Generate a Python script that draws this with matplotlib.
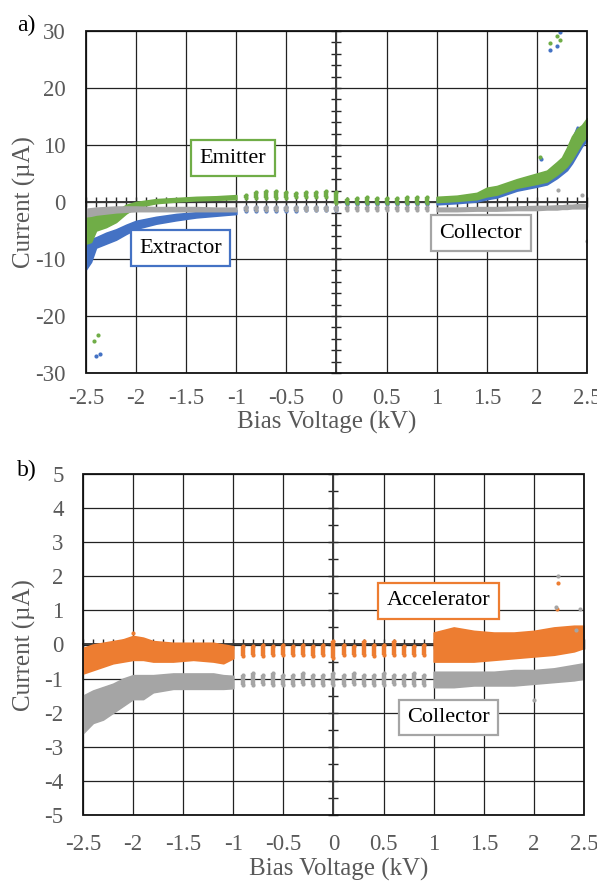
import matplotlib
matplotlib.use("Agg")
import matplotlib.pyplot as plt
import numpy as np
from matplotlib.patches import Rectangle

plt.rcParams['font.family'] = ['Liberation Serif', 'DejaVu Serif']
plt.rcParams['axes.unicode_minus'] = False

GREEN = '#70AD47'
BLUE = '#4472C4'
GRAY = '#A5A5A5'
ORANGE = '#ED7D31'
TICKCOL = '#595959'

# ---------------- data: panel a ----------------
x_tick_labels = ['-2.5', '-2', '-1.5', '-1', '-0.5', '0', '0.5', '1', '1.5', '2', '2.5']
x_ticks = [-2.5, -2.0, -1.5, -1.0, -0.5, 0.0, 0.5, 1.0, 1.5, 2.0, 2.5]
a_y_ticks = [-30, -20, -10, 0, 10, 20, 30]
a_y_labels = ['-30', '-20', '-10', '0', '10', '20', '30']
b_y_ticks = [-5, -4, -3, -2, -1, 0, 1, 2, 3, 4, 5]
b_y_labels = ['-5', '-4', '-3', '-2', '-1', '0', '1', '2', '3', '4', '5']

a_neg_x = [-2.5, -2.45, -2.4, -2.3, -2.2, -2.1, -2.0, -1.8, -1.6, -1.4, -1.2, -1.0]
a_emit_neg_lo = [-7.3, -7.0, -5.0, -4.4, -3.5, -2.0, -0.9, -0.2, 0.1, 0.3, 0.4, 0.5]
a_emit_neg_hi = [-2.3, -2.0, -2.1, -2.0, -1.6, -0.5, 0.0, 0.5, 0.7, 0.9, 1.0, 1.2]
a_extr_neg_lo = [-11.8, -10.5, -8.0, -7.3, -6.6, -5.6, -4.7, -3.8, -3.2, -2.7, -2.4, -2.1]
a_extr_neg_hi = [-7.6, -6.5, -6.2, -5.4, -4.8, -4.0, -3.3, -2.6, -2.1, -1.8, -1.6, -1.4]
a_coll_neg_lo = [-2.5, -2.4, -2.2, -2.0, -1.8, -1.7, -1.6, -1.6, -1.6, -1.6, -1.6, -1.6]
a_coll_neg_hi = [-1.2, -1.1, -1.0, -0.9, -0.8, -0.8, -0.8, -0.9, -0.9, -0.9, -1.0, -1.0]

step_x = [-0.9, -0.8, -0.7, -0.6, -0.5, -0.4, -0.3, -0.2, -0.1, 0.0,
          0.1, 0.2, 0.3, 0.4, 0.5, 0.6, 0.7, 0.8, 0.9]
a_emit_step_lo = [0.7, 0.7, 0.7, 0.7, 0.7, 0.8, 0.9, 0.9, 0.9, -0.1,
                  -0.2, -0.2, -0.1, -0.1, -0.1, -0.1, -0.1, -0.1, -0.1]
a_emit_step_hi = [1.2, 1.8, 1.9, 1.9, 1.8, 1.6, 1.8, 1.8, 1.9, 1.8,
                  0.6, 0.7, 0.8, 0.7, 0.7, 0.7, 0.8, 0.8, 0.9]
a_extr_step_lo = [-1.5, -1.5, -1.5, -1.5, -1.5, -1.5, -1.4, -1.4, -1.4, -1.4,
                  -0.4, -0.4, -0.4, -0.4, -0.4, -0.4, -0.4, -0.4, -0.4]
a_extr_step_hi = [-0.9, -0.9, -0.9, -0.9, -0.9, -0.9, -0.9, -0.9, -0.9, -0.9,
                  -0.1, -0.1, -0.1, -0.1, -0.1, -0.1, -0.1, -0.1, -0.1]
a_coll_step_lo = [-1.4, -1.4, -1.4, -1.4, -1.4, -1.4, -1.4, -1.4, -1.4, -1.4,
                  -1.4, -1.4, -1.4, -1.4, -1.4, -1.4, -1.4, -1.4, -1.4]
a_coll_step_hi = [-0.9, -0.9, -0.9, -0.9, -0.9, -0.9, -0.9, -0.9, -0.9, -0.9,
                  -0.8, -0.8, -0.8, -0.8, -0.8, -0.8, -0.8, -0.8, -0.8]

a_pos_x = [1.0, 1.2, 1.4, 1.5, 1.6, 1.8, 2.0, 2.1, 2.2, 2.25, 2.3, 2.35, 2.4, 2.45, 2.5]
a_emit_pos_lo = [0.0, 0.2, 0.5, 1.0, 1.3, 2.5, 3.2, 3.6, 4.8, 5.5, 6.3, 7.5, 9.0, 10.5, 11.5]
a_emit_pos_hi = [0.9, 1.1, 1.6, 2.5, 2.8, 4.0, 5.0, 5.5, 7.0, 7.8, 9.5, 11.5, 12.8, 13.5, 14.7]
a_extr_pos_lo = [-0.4, -0.2, 0.1, 0.5, 0.8, 2.0, 2.7, 3.1, 4.2, 4.9, 5.6, 6.8, 8.3, 9.8, 10.8]
a_extr_pos_hi = [0.5, 0.7, 1.2, 2.0, 2.3, 3.5, 4.5, 5.0, 6.5, 7.2, 9.0, 11.0, 13.2, 13.0, 14.3]
a_coll_pos_lo = [-1.6, -1.6, -1.5, -1.5, -1.5, -1.4, -1.4, -1.3, -1.3, -1.2, -1.2, -1.1, -1.1, -1.1, -1.1]
a_coll_pos_hi = [-1.0, -1.0, -0.9, -0.9, -0.9, -0.8, -0.7, -0.7, -0.6, -0.6, -0.5, -0.5, -0.4, -0.4, -0.4]

a_emit_out_x = [-2.42, -2.38, 2.03, 2.135, 2.2, 2.23, 2.24]
a_emit_out_y = [-24.3, -23.4, 7.9, 27.9, 29.1, 28.5, 30.6]
a_extr_out_x = [-2.405, -2.36, 2.04, 2.13, 2.2, 2.23]
a_extr_out_y = [-27.1, -26.7, 7.6, 26.7, 27.3, 29.9]
a_coll_out_x = [2.21, 2.45, 2.5]
a_coll_out_y = [2.1, 1.2, -6.8]

# ---------------- data: panel b ----------------
b_neg_x = [-2.5, -2.4, -2.3, -2.2, -2.1, -2.0, -1.9, -1.8, -1.6, -1.4, -1.2, -1.1, -1.0]
b_acc_neg_lo = [-0.85, -0.75, -0.65, -0.55, -0.5, -0.45, -0.45, -0.5, -0.5, -0.45, -0.5, -0.55, -0.4]
b_acc_neg_hi = [-0.1, 0.0, 0.05, 0.1, 0.15, 0.25, 0.2, 0.1, 0.05, 0.05, 0.05, 0.0, -0.05]
b_coll_neg_lo = [-2.6, -2.3, -2.2, -2.0, -1.8, -1.6, -1.6, -1.4, -1.3, -1.3, -1.3, -1.3, -1.28]
b_coll_neg_hi = [-1.5, -1.35, -1.25, -1.15, -1.0, -0.9, -0.9, -0.9, -0.85, -0.85, -0.85, -0.9, -0.92]

b_acc_step_lo = [-0.35, -0.3, -0.35, -0.3, -0.3, -0.3, -0.3, -0.35, -0.3, -0.4,
                 -0.3, -0.3, -0.3, -0.35, -0.3, -0.3, -0.3, -0.3, -0.3]
b_acc_step_hi = [-0.05, -0.05, 0.0, -0.05, 0.0, -0.05, 0.0, -0.05, 0.0, 0.1,
                 0.0, -0.05, 0.1, 0.0, 0.0, 0.1, -0.05, -0.05, 0.0]
b_coll_step_lo = [-1.2, -1.2, -1.15, -1.2, -1.2, -1.2, -1.15, -1.2, -1.2, -1.2,
                  -1.2, -1.15, -1.2, -1.2, -1.2, -1.15, -1.2, -1.2, -1.2]
b_coll_step_hi = [-0.9, -0.85, -0.9, -0.85, -0.9, -0.9, -0.85, -0.9, -0.9, -0.85,
                  -0.9, -0.85, -0.9, -0.9, -0.85, -0.9, -0.9, -0.85, -0.9]

b_pos_x = [1.0, 1.2, 1.4, 1.6, 1.8, 2.0, 2.2, 2.4, 2.5]
b_acc_pos_lo = [-0.5, -0.5, -0.5, -0.45, -0.4, -0.35, -0.3, -0.2, -0.1]
b_acc_pos_hi = [0.35, 0.5, 0.4, 0.35, 0.35, 0.4, 0.5, 0.55, 0.55]
b_coll_pos_lo = [-1.25, -1.25, -1.2, -1.2, -1.2, -1.15, -1.1, -1.05, -1.0]
b_coll_pos_hi = [-0.8, -0.8, -0.8, -0.8, -0.75, -0.75, -0.7, -0.6, -0.55]

b_acc_out_x = [-2.0, 2.23, 2.24]
b_acc_out_y = [0.35, 1.05, 1.8]
b_coll_out_x = [2.22, 2.24, 2.46, 2.0, 2.42]
b_coll_out_y = [1.1, 2.0, 1.05, -1.62, 0.42]

# ---------------- figure ----------------
W, H = 597, 881
fig = plt.figure(figsize=(W / 100, H / 100), dpi=100)
axA = fig.add_axes([86 / W, 1 - 373 / H, (587 - 86) / W, (373 - 31) / H])
axB = fig.add_axes([83 / W, 1 - 815 / H, (584 - 83) / W, (815 - 474) / H])


def style(ax, yticks, ylabels, ylim, yminor, xpad, ypad):
    ax.set_xlim(-2.5, 2.5)
    ax.set_ylim(*ylim)
    ax.set_xticks(x_ticks)
    ax.set_xticklabels(x_tick_labels)
    ax.set_yticks(yticks)
    ax.set_yticklabels(ylabels)
    ax.set_xticks(np.arange(-2.5, 2.5001, 0.1), minor=True)
    ax.set_yticks(np.arange(ylim[0], ylim[1] + 1e-6, yminor), minor=True)
    ax.grid(True, which='major', color='#222222', lw=0.9)
    ax.set_axisbelow(True)
    for s in ['left', 'bottom']:
        ax.spines[s].set_visible(False)
    ax.spines['top'].set_position(('data', 0))
    ax.spines['right'].set_position(('data', 0))
    for s in ['top', 'right']:
        ax.spines[s].set_color('#3a3a3a')
        ax.spines[s].set_linewidth(1.4)
        ax.spines[s].set_zorder(0.6)
    ax.tick_params(axis='x', which='both', bottom=False, top=True, labelbottom=True,
                   labeltop=False, direction='inout', length=7, width=1.0,
                   color='#262626', labelsize=16.5, labelcolor=TICKCOL, pad=xpad)
    ax.tick_params(axis='y', which='both', left=False, right=True, labelleft=True,
                   labelright=False, direction='inout', length=7, width=1.0,
                   color='#262626', labelsize=16.5, labelcolor=TICKCOL, pad=ypad)
    ax.add_patch(Rectangle((0, 0), 1, 1, transform=ax.transAxes, fill=False,
                           ec='#111111', lw=1.3, clip_on=False, zorder=5))


def band(ax, x, lo, hi, color, z):
    ax.fill_between(x, lo, hi, color=color, lw=1.2, edgecolor=color, zorder=z)


def steps(ax, x, lo, hi, color, z):
    ax.vlines(x, lo, hi, color=color, lw=3.2, zorder=z)
    ax.scatter(x, lo, s=9, color=color, lw=0, zorder=z)
    ax.scatter(x, hi, s=9, color=color, lw=0, zorder=z)


# ---- panel a ----
style(axA, a_y_ticks, a_y_labels, (-30, 30), 2, 7.5, 11)
band(axA, a_neg_x, a_extr_neg_lo, a_extr_neg_hi, BLUE, 2)
band(axA, a_pos_x, a_extr_pos_lo, a_extr_pos_hi, BLUE, 2)
steps(axA, step_x, a_extr_step_lo, a_extr_step_hi, BLUE, 2)
band(axA, a_neg_x, a_emit_neg_lo, a_emit_neg_hi, GREEN, 3)
band(axA, a_pos_x, a_emit_pos_lo, a_emit_pos_hi, GREEN, 3)
steps(axA, step_x, a_emit_step_lo, a_emit_step_hi, GREEN, 3)
band(axA, a_neg_x, a_coll_neg_lo, a_coll_neg_hi, GRAY, 4)
band(axA, a_pos_x, a_coll_pos_lo, a_coll_pos_hi, GRAY, 4)
steps(axA, step_x, a_coll_step_lo, a_coll_step_hi, GRAY, 4)
axA.scatter(a_extr_out_x, a_extr_out_y, s=9, color=BLUE, lw=0, zorder=2)
axA.scatter(a_emit_out_x, a_emit_out_y, s=9, color=GREEN, lw=0, zorder=3)
axA.scatter(a_coll_out_x, a_coll_out_y, s=9, color=GRAY, lw=0, zorder=4)

box = dict(boxstyle='square,pad=0.38', fc='white', lw=1.6)
axA.text(-1.035, 7.7, 'Emitter', ha='center', va='center', fontsize=16,
         bbox=dict(box, ec=GREEN), zorder=6)
axA.text(-1.555, -8.1, 'Extractor', ha='center', va='center', fontsize=16,
         bbox=dict(box, ec=BLUE), zorder=6)
axA.text(1.44, -5.5, 'Collector', ha='center', va='center', fontsize=16,
         bbox=dict(box, ec=GRAY), zorder=6)

# ---- panel b ----
style(axB, b_y_ticks, b_y_labels, (-5, 5), 0.5, 10, 10.5)
band(axB, b_neg_x, b_acc_neg_lo, b_acc_neg_hi, ORANGE, 3)
band(axB, b_pos_x, b_acc_pos_lo, b_acc_pos_hi, ORANGE, 3)
steps(axB, step_x, b_acc_step_lo, b_acc_step_hi, ORANGE, 3)
band(axB, b_neg_x, b_coll_neg_lo, b_coll_neg_hi, GRAY, 4)
band(axB, b_pos_x, b_coll_pos_lo, b_coll_pos_hi, GRAY, 4)
steps(axB, step_x, b_coll_step_lo, b_coll_step_hi, GRAY, 4)
axB.scatter(b_acc_out_x, b_acc_out_y, s=9, color=ORANGE, lw=0, zorder=3)
axB.scatter(b_coll_out_x, b_coll_out_y, s=9, color=GRAY, lw=0, zorder=4)

axB.text(1.05, 1.28, 'Accelerator', ha='center', va='center', fontsize=16,
         bbox=dict(box, ec=ORANGE), zorder=6)
axB.text(1.15, -2.14, 'Collector', ha='center', va='center', fontsize=16,
         bbox=dict(box, ec=GRAY), zorder=6)

# ---- labels ----
fig.text(24 / W, 1 - 202 / H, 'Current (µA)', rotation=90, ha='center', va='center',
         fontsize=18, color=TICKCOL)
fig.text(327 / W, 1 - 422 / H, 'Bias Voltage (kV)', ha='center', va='center',
         fontsize=18, color=TICKCOL)
fig.text(24 / W, 1 - 645 / H, 'Current (µA)', rotation=90, ha='center', va='center',
         fontsize=18, color=TICKCOL)
fig.text(339 / W, 1 - 869 / H, 'Bias Voltage (kV)', ha='center', va='center',
         fontsize=18, color=TICKCOL)
fig.text(17 / W, 1 - 25 / H, 'a)', ha='left', va='center', fontsize=17, color='black')
fig.text(17 / W, 1 - 470 / H, 'b)', ha='left', va='center', fontsize=17, color='black')

fig.savefig('out.png', dpi=100)
